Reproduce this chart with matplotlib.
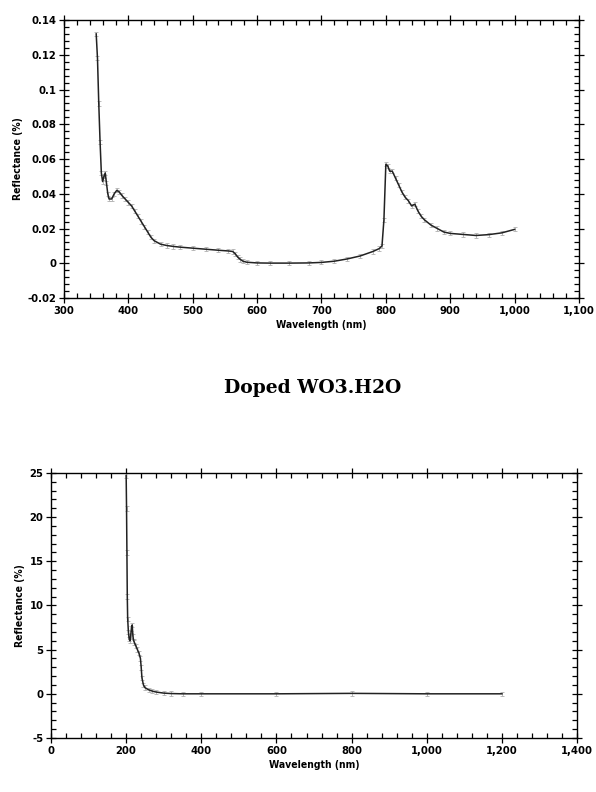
import matplotlib
matplotlib.use("Agg")
import matplotlib.pyplot as plt
from matplotlib.ticker import MultipleLocator, FuncFormatter
import numpy as np

# Top panel data (undoped)
wl_top = [350, 352, 354, 356, 358, 360, 362, 364, 366, 368, 370, 374, 378, 382, 386,
          390, 395, 400, 405, 410, 415, 420, 425, 430, 435, 440, 450, 460, 470, 480,
          500, 520, 540, 555, 562, 566, 570, 574, 578, 584, 600, 620, 650, 680, 700,
          720, 740, 760, 780, 790, 794, 797, 800, 803, 806, 810, 815, 820, 825, 830,
          835, 840, 845, 850, 855, 860, 870, 880, 890, 900, 920, 940, 960, 980, 1000]
refl_top = [0.132, 0.118, 0.092, 0.070, 0.052, 0.047, 0.050, 0.052, 0.046, 0.040, 0.037, 0.037, 0.040, 0.042, 0.041,
            0.039, 0.037, 0.035, 0.033, 0.030, 0.027, 0.024, 0.021, 0.018, 0.015, 0.013, 0.011, 0.0102, 0.0097, 0.0093,
            0.0087, 0.0081, 0.0075, 0.0071, 0.0068, 0.0055, 0.0035, 0.0022, 0.0012, 0.0006, 0.0002, 0.0001, 0.0001, 0.0002, 0.0005,
            0.0012, 0.0025, 0.0042, 0.0068, 0.0085, 0.010, 0.025, 0.057, 0.056, 0.053, 0.053, 0.049, 0.045, 0.041, 0.038,
            0.036, 0.033, 0.034, 0.030, 0.027, 0.025, 0.022, 0.020, 0.018, 0.0172, 0.0166, 0.0160, 0.0165, 0.0175, 0.0195]

# Bottom panel data (doped)
wl_bot = [200, 201, 202, 203, 204, 206, 208, 210, 212, 214, 216, 218, 220, 222, 226,
          230, 234, 238, 240, 242, 246, 250, 260, 270, 280, 300, 320, 350, 400, 600,
          800, 1000, 1200]
refl_bot = [24.7, 21.0, 16.0, 11.0, 8.5, 7.0, 6.2, 6.0, 6.6, 7.4, 7.8, 6.5, 6.0, 5.8, 5.4,
            5.0, 4.6, 4.0, 3.0, 1.8, 1.0, 0.7, 0.45, 0.3, 0.2, 0.08, 0.03, 0.0, 0.0, 0.0,
            0.05, 0.0, 0.0]

title_mid = "Doped WO3.H2O"
xlabel = "Wavelength (nm)"
ylabel = "Reflectance (%)"

plt.rcParams['font.family'] = ['DejaVu Sans']
plt.rcParams['font.stretch'] = 'condensed'
plt.rcParams['font.weight'] = 'bold'

fig = plt.figure(figsize=(5.96, 7.92), dpi=100)

def thousands(v, pos):
    if abs(v - round(v)) < 1e-9:
        return "{:,}".format(int(round(v)))
    return "{:g}".format(v)

def style(ax, xmaj, xmin, ymaj, ymin):
    ax.xaxis.set_major_locator(MultipleLocator(xmaj))
    ax.xaxis.set_minor_locator(MultipleLocator(xmin))
    ax.yaxis.set_major_locator(MultipleLocator(ymaj))
    ax.yaxis.set_minor_locator(MultipleLocator(ymin))
    ax.tick_params(which='both', top=True, right=True, labelsize=8, width=0.9, pad=2)
    ax.tick_params(which='major', direction='inout', length=7)
    ax.tick_params(which='minor', direction='in', length=3.5)
    for s in ax.spines.values():
        s.set_linewidth(1.0)
    ax.set_xlabel(xlabel, fontsize=7.5, fontweight='bold', labelpad=3)
    ax.set_ylabel(ylabel, fontsize=7.5, fontweight='bold', labelpad=3)

# Top axes
ax1 = fig.add_axes([0.1074, 0.6237, 0.864, 0.351])
wt = np.array(wl_top); rt = np.array(refl_top)
ax1.errorbar(wt, rt, yerr=0.0012, fmt='none', ecolor='#b0b0b0', elinewidth=0.6, capsize=1.5, capthick=0.6)
ax1.plot(wt, rt, color='#222222', lw=1.1)
ax1.set_xlim(300, 1100)
ax1.set_ylim(-0.02, 0.14)
style(ax1, 100, 20, 0.02, 0.004)
ax1.xaxis.set_major_formatter(FuncFormatter(thousands))
ax1.yaxis.set_major_formatter(FuncFormatter(lambda v, p: "0" if abs(v) < 1e-9 else "{:g}".format(round(v, 3))))

fig.text(0.525, 0.51, title_mid, ha='center', va='center', fontsize=13.5,
         fontweight='bold', family=['DejaVu Serif'], fontstretch='normal')

# Bottom axes
ax2 = fig.add_axes([0.0856, 0.0682, 0.8826, 0.3346])
wb = np.array(wl_bot); rb = np.array(refl_bot)
ax2.errorbar(wb, rb, yerr=0.25, fmt='none', ecolor='#b0b0b0', elinewidth=0.6, capsize=1.5, capthick=0.6)
ax2.plot(wb, rb, color='#222222', lw=1.1)
ax2.set_xlim(0, 1400)
ax2.set_ylim(-5, 25)
style(ax2, 200, 40, 5, 1)
ax2.xaxis.set_major_formatter(FuncFormatter(thousands))
ax2.yaxis.set_major_formatter(FuncFormatter(lambda v, p: "{:d}".format(int(round(v)))))

fig.savefig("out.png", dpi=100)
